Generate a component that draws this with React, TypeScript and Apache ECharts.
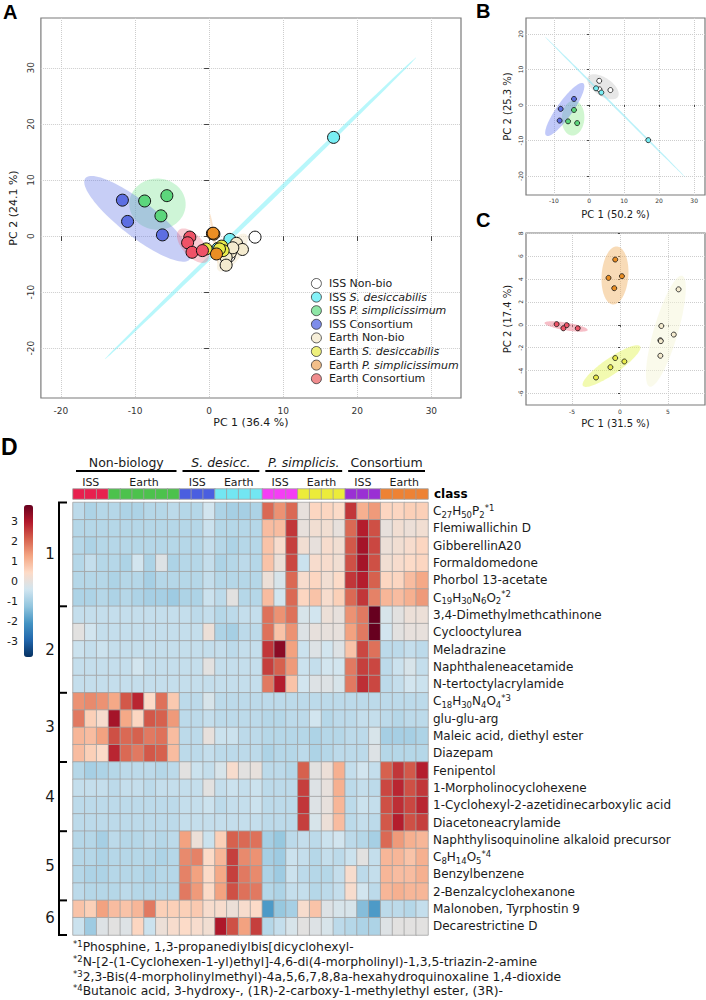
import { useEffect, useRef } from "react";
import * as echarts from "echarts";

const FONT = "DejaVu Sans";
const LETTER_FONT = "Liberation Sans";
const INK = "#1a1a1a";

// ---------------- PCA score plots ----------------
const GROUPS = [
  "ISS Non-bio",
  "ISS S. desiccabilis",
  "ISS P. simplicissimum",
  "ISS Consortium",
  "Earth Non-bio",
  "Earth S. desiccabilis",
  "Earth P. simplicissimum",
  "Earth Consortium",
];
const GROUP_FILL = ["#FFFFFF", "#78EEF4", "#5CD67C", "#5D6EE2", "#F4EBCF", "#E8EA4A", "#EA8E24", "#EF5367"];
const LEGEND_FILL = ["#FFFFFF", "#84F2F8", "#8EE6A6", "#7E8DEA", "#F7EFD9", "#EEF07C", "#F2BF8A", "#F08C8E"];

const AXIS_TITLES_A = ["PC 1 (36.4 %)", "PC 2 (24.1 %)"];
const AXIS_TITLES_B = ["PC 1 (50.2 %)", "PC 2 (25.3 %)"];
const AXIS_TITLES_C = ["PC 1 (31.5 %)", "PC 2 (17.4 %)"];

// all samples, one list per group in GROUPS order: [PC1, PC2]
const SCORES_ALL: [number, number][][] = [
  [[6.2, -0.2], [2.6, -1.6], [2.7, -3.6]],
  [[16.8, 17.6], [2.8, -0.6], [1.2, -2.2]],
  [[-8.7, 6.25], [-5.7, 7.2], [-6.5, 3.6]],
  [[-11.7, 6.4], [-11.0, 2.6], [-6.3, 0.2]],
  [[3.7, -1.3], [4.5, -2.4], [2.9, -2.9], [2.3, -3.8], [2.3, -5.2], [3.2, -2.1]],
  [[-0.4, -2.3], [1.7, -1.8], [1.9, -2.6], [1.4, -2.3]],
  [[0.45, 0.45], [0.65, 0.35], [0.55, 0.5], [1.0, -3.2]],
  [[-2.6, -0.2], [-2.9, -1.2], [-2.3, -2.9], [-0.9, -2.6]],
];
// ISS samples only (groups 0-3)
const SCORES_ISS: [number, number][][] = [
  [[2.9, 6.8], [2.95, 4.4], [6.1, 4.2]],
  [[2.0, 4.7], [3.5, 3.5], [16.9, -9.9]],
  [[-4.3, -1.4], [-6.0, -4.6], [-3.4, -5.1]],
  [[-4.3, 1.7], [-8.1, -1.1], [-8.4, -4.4]],
];
// Earth samples only (groups 4-7)
const SCORES_EARTH: [number, number][][] = [
  [[6.1, 3.1], [4.3, -0.1], [5.6, -0.85], [4.2, -1.35], [4.25, -1.42], [4.2, -2.7]],
  [[-0.5, -2.9], [0.45, -3.2], [-1.0, -3.7], [-2.5, -4.6]],
  [[-0.5, 5.7], [-1.2, 4.1], [0.2, 4.25], [-0.6, 3.2]],
  [[-6.6, 0.06], [-5.55, -0.03], [-5.9, -0.3], [-4.4, -0.3]],
];

const TICKS_A = [-20, -10, 0, 10, 20, 30];
const TICKS_B_X = [-10, 0, 10, 20, 30];
const TICKS_B_Y = [-20, -10, 0, 10, 20];
const TICKS_C_X = [-5, 0, 5];
const TICKS_C_Y = [-6, -4, -2, 0, 2, 4, 6, 8];

const ELLIPSE_A = [
  "rgba(255,255,255,0.35)",
  "rgba(125,240,248,0.55)",
  "rgba(115,226,140,0.35)",
  "rgba(95,115,230,0.35)",
  "rgba(238,222,180,0.35)",
  "rgba(236,238,110,0.30)",
  "rgba(242,180,120,0.35)",
  "rgba(235,110,130,0.35)",
];
const ELLIPSE_B = ["rgba(185,185,185,0.35)", "rgba(140,232,245,0.6)", "rgba(120,228,120,0.35)", "rgba(100,120,240,0.40)"];
const ELLIPSE_C = ["rgba(246,246,215,0.5)", "rgba(226,244,80,0.45)", "rgba(240,176,96,0.45)", "rgba(236,110,130,0.45)"];

// 95 % quantile of chi-square with 2 degrees of freedom
const CHI2_95_2DF = 5.991;

// ---------------- heatmap ----------------
const CLASS_SITES = ["ISS", "Earth", "ISS", "Earth", "ISS", "Earth", "ISS", "Earth"];
const CLASS_SIZES = [3, 6, 3, 4, 3, 4, 3, 4];
const CLASS_COLORS = ["#E8204E", "#4CC24C", "#4A5EE0", "#72E6F2", "#F53DF5", "#ECEC3A", "#9A2FD4", "#EE8234"];
const HEADER_TITLES = ["Non-biology", "S. desicc.", "P. simplicis.", "Consortium"];
const HEADER_ITALIC = [false, true, true, false];

const ROW_LABELS = [
  "C_27H_50P_2^*1",
  "Flemiwallichin D",
  "GibberellinA20",
  "Formaldomedone",
  "Phorbol 13-acetate",
  "C_19H_30N_6O_2^*2",
  "3,4-Dimethylmethcathinone",
  "Cyclooctylurea",
  "Meladrazine",
  "Naphthaleneacetamide",
  "N-tertoctylacrylamide",
  "C_18H_30N_4O_4^*3",
  "glu-glu-arg",
  "Maleic acid, diethyl ester",
  "Diazepam",
  "Fenipentol",
  "1-Morpholinocyclohexene",
  "1-Cyclohexyl-2-azetidinecarboxylic acid",
  "Diacetoneacrylamide",
  "Naphthylisoquinoline alkaloid precursor",
  "C_8H_14O_5^*4",
  "Benzylbenzene",
  "2-Benzalcyclohexanone",
  "Malonoben, Tyrphostin 9",
  "Decarestrictine D",
];
const CLUSTER_SIZES = [6, 5, 4, 4, 4, 2];
const CLUSTER_NAMES = ["1", "2", "3", "4", "5", "6"];

// z-scores, one row per compound, 30 samples in class order
const HEAT_VALUES: number[][] = [
  [-0.7, -0.9, -0.8, -0.8, -0.9, -0.9, -0.8, -0.8, -0.7, -0.8, -0.8, -0.4, -0.9, -1.0, -1.0, -0.9, 2.0, 1.5, 2.0, 0.0, 0.5, 0.5, 0.4, 2.6, 1.1, 1.4, 0.5, 0.5, 0.6, 0.6],
  [-0.8, -0.8, -0.8, -0.8, -0.8, -0.8, -0.8, -0.8, -0.8, -0.8, -0.8, -0.5, -0.8, -0.8, -0.8, -0.8, 0.9, 0.9, 2.6, 0.0, 0.2, 0.2, 0.0, 2.0, 2.9, 2.3, 0.0, 0.2, 0.1, 0.2],
  [-0.8, -0.9, -0.8, -0.8, -0.8, -0.8, -0.8, -0.8, -0.8, -0.8, -0.8, -0.6, -0.8, -0.9, -0.8, -0.8, 0.8, 0.3, 2.5, 0.2, 0.0, 0.3, 0.2, 2.2, 3.1, 2.4, 0.1, 0.2, 0.3, 0.5],
  [-0.8, -0.6, -0.8, -0.8, -0.9, -0.4, -0.9, -0.2, -0.9, -0.8, -0.8, -0.6, -0.9, -0.8, -0.7, -0.8, 0.8, 0.1, 2.4, -0.5, 0.3, 0.3, 0.2, 2.3, 3.1, 2.3, 0.2, 0.3, 0.4, 0.5],
  [-0.8, -0.8, -0.8, -0.9, -0.8, -0.8, -1.0, -0.8, -0.8, -0.8, -0.8, -0.6, -0.8, -0.8, -0.8, -0.8, 0.1, -0.3, 2.0, 0.3, 0.5, 0.2, 0.4, 2.6, 2.9, 2.1, 0.5, 0.5, 0.9, 1.2],
  [-0.9, -0.9, -0.8, -0.9, -0.8, -0.9, -1.0, -1.0, -1.1, -0.9, -0.9, -0.5, -0.7, -0.1, -0.8, -0.8, 0.9, -0.4, 2.0, 0.5, 0.8, 0.3, 0.6, 2.0, 2.6, 1.7, 1.0, 0.9, 1.1, 1.4],
  [-0.6, -0.6, -0.6, -0.6, -0.6, -0.6, -0.6, -0.6, -0.6, -0.6, -0.7, -0.6, -0.8, -0.7, -0.6, -0.6, 1.9, 1.5, 1.9, -0.3, -0.4, 0.1, 0.0, 1.5, 1.8, 3.8, -0.3, -0.1, 0.1, 0.1],
  [-0.1, -0.4, -0.6, -0.6, -0.6, -0.6, -0.6, -0.6, -0.6, -0.6, -0.6, 0.1, -0.9, -1.0, -0.7, -0.7, 1.9, 0.8, 1.5, -0.2, 0.0, 0.0, 0.0, 1.3, 1.8, 3.8, -0.4, -0.1, 0.0, 0.0],
  [-0.5, -0.6, -0.5, -0.6, -0.6, -0.6, -0.6, -0.6, -0.6, -0.6, -0.6, -0.6, -0.6, -0.7, -0.6, -0.6, 2.6, 3.4, 1.3, -0.5, -0.2, -0.4, -0.2, 0.8, 2.4, 1.9, -0.7, -0.7, -0.6, -0.7],
  [-0.6, -0.6, -0.6, -0.6, -0.6, -0.4, -0.6, -0.6, -0.6, -0.6, -0.6, -0.1, -0.6, -0.6, -0.6, -0.6, 2.5, 2.1, 1.4, -0.5, -0.6, -0.4, -0.4, 1.8, 2.5, 2.4, -0.7, -0.5, -0.3, -0.6],
  [-0.6, -0.6, -0.6, -0.6, -0.6, -0.6, -0.6, -0.6, -0.6, -0.6, -0.6, -0.6, -0.6, -0.6, -0.6, -0.6, 1.8, 2.9, 0.8, -0.4, -0.2, -0.2, -0.3, 1.8, 2.7, 2.4, -0.7, -0.6, -0.4, -0.5],
  [1.5, 1.6, 1.5, 1.2, 2.2, 2.8, 0.4, 1.9, 0.7, -0.7, -0.7, -0.3, -0.7, -0.7, -0.7, -0.7, -0.7, -0.7, -0.7, -0.7, -0.7, -0.7, -0.7, -0.7, -0.7, -0.7, -0.7, -0.7, -0.7, -0.7],
  [1.8, 0.6, 0.3, 3.1, 1.2, 0.5, 2.2, 2.1, 1.4, -0.7, -0.7, -0.6, -0.7, -0.7, -0.7, -0.7, -0.8, -0.8, -0.7, -0.7, -0.4, -0.8, -0.7, -0.7, -0.6, -0.6, -0.7, -0.8, -0.7, -0.7],
  [1.0, 0.9, 1.3, 2.3, 2.0, 2.1, 1.8, 1.9, 0.9, -0.7, -0.7, 0.0, -0.5, -0.5, -0.7, -0.7, -0.8, -0.8, -0.8, -0.8, -0.9, -0.8, -0.8, -0.7, -0.7, -0.3, -1.0, -1.0, -1.0, -0.9],
  [0.9, 0.6, 0.4, 2.8, 2.0, 1.8, 2.2, 2.1, 0.9, -0.7, -0.7, -0.6, -0.7, -0.7, -0.7, -0.7, -0.9, -0.8, -0.8, -0.7, -0.9, -0.8, -0.7, -0.7, -0.7, -0.2, -0.8, -0.8, -0.8, -0.8],
  [-0.8, -1.0, -0.9, -0.8, -0.7, -0.7, -0.7, -0.8, -0.7, -0.1, -0.5, -0.6, -0.3, 0.3, -0.1, 0.0, -0.7, -0.7, -0.8, 2.1, -0.1, 0.1, 1.1, -0.6, -0.4, -0.6, 2.1, 2.6, 2.2, 2.9],
  [-0.6, -0.6, -0.6, -0.7, -0.6, -0.6, -0.7, -0.6, -0.6, -0.6, -0.6, -0.1, -0.6, -0.5, -0.6, -0.5, -0.7, -0.7, -0.7, 2.5, -0.2, 0.0, 1.1, -0.7, -0.6, -0.7, 2.4, 2.8, 2.3, 2.6],
  [-0.7, -0.7, -0.7, -0.7, -0.7, -0.7, -0.7, -0.7, -0.7, -0.6, -0.6, -0.5, -0.7, -0.6, -0.6, -0.5, -0.7, -0.7, -0.7, 2.6, -0.2, 0.0, 1.0, -0.7, -0.5, -0.6, 2.3, 2.7, 2.4, 2.8],
  [-0.7, -0.7, -0.7, -0.7, -0.7, -0.7, -0.7, -0.7, -0.7, -0.6, -0.6, -0.6, -0.6, -0.6, -0.6, -0.6, -0.7, -0.7, -0.7, 2.5, -0.3, 0.1, 0.9, -0.7, -0.6, -0.7, 2.2, 2.9, 2.3, 2.5],
  [-0.8, -0.8, -1.0, -0.7, -0.8, -0.8, -0.7, -0.8, -0.7, 1.3, 0.1, -0.5, 0.6, 2.1, 2.0, 1.9, -1.0, -1.2, -0.7, -0.6, -0.7, -0.5, -0.4, -0.7, -0.8, -1.0, 2.0, 1.4, 1.1, 1.0],
  [-0.8, -0.8, -0.9, -0.8, -0.8, -0.8, -0.8, -0.9, -0.8, 1.6, 1.7, 0.4, 1.0, 2.5, 1.6, 1.5, -1.0, -1.1, -0.5, -0.6, -0.8, -0.6, -0.7, -0.5, -0.1, -0.6, 1.0, 1.0, 0.8, 1.1],
  [-0.8, -0.9, -0.9, -0.8, -0.8, -0.8, -0.9, -0.8, -0.8, 1.7, 1.3, 0.4, 1.2, 2.5, 1.8, 1.6, -0.9, -1.1, -0.5, -0.7, -0.8, -0.8, -0.6, 0.3, -0.7, -0.6, 1.0, 0.9, 0.9, 1.1],
  [-0.7, -0.8, -0.8, -0.8, -0.7, -0.8, -0.8, -0.8, -0.8, 1.8, 1.4, 0.4, 1.3, 2.3, 1.9, 1.8, -0.8, -0.9, -0.6, -0.6, -0.8, -0.7, -0.6, 0.3, -0.4, -0.7, 1.0, 1.1, 1.0, 1.0],
  [0.8, 0.6, 1.3, 0.9, 0.8, 1.0, 1.8, 0.6, 0.6, 0.6, 0.7, 0.3, 0.3, 0.1, 0.3, 0.4, -2.0, -1.2, -1.0, 0.3, 0.8, -0.2, -0.3, -0.3, -1.4, -2.0, -0.7, -0.7, -0.8, -0.6],
  [-0.5, -1.1, -0.2, -0.1, -0.2, 0.5, -0.5, 0.1, 0.3, 0.4, 0.3, 0.2, 3.0, 2.3, 1.3, 2.5, -0.8, -0.6, -0.3, -0.1, -0.2, -0.3, -0.7, -0.8, -0.9, -0.9, -0.2, -0.1, -0.1, -0.1],
];

const RDBU = ["#053061", "#2166AC", "#4393C3", "#92C5DE", "#D1E5F0", "#FDDBC7", "#F4A582", "#D6604D", "#B2182B", "#67001F"];
const SCALE_RANGE = [-3.8, 3.8];
const SCALE_TICKS = [3, 2, 1, 0, -1, -2, -3];

const FOOTNOTES = [
  ["*1", "Phosphine, 1,3-propanediylbis[dicyclohexyl-"],
  ["*2", "N-[2-(1-Cyclohexen-1-yl)ethyl]-4,6-di(4-morpholinyl)-1,3,5-triazin-2-amine"],
  ["*3", "2,3-Bis(4-morpholinylmethyl)-4a,5,6,7,8,8a-hexahydroquinoxaline 1,4-dioxide"],
  ["*4", "Butanoic acid, 3-hydroxy-, (1R)-2-carboxy-1-methylethyl ester, (3R)-"],
];

// ---------------- helpers ----------------
type Pt = [number, number];

function centroid(points: Pt[]): Pt {
  const n = points.length;
  return [points.reduce((s, p) => s + p[0], 0) / n, points.reduce((s, p) => s + p[1], 0) / n];
}

// 95 % normal-theory confidence ellipse of a group of scores
function confidenceEllipse(points: Pt[], steps = 96): Pt[] {
  const n = points.length;
  const [mx, my] = centroid(points);
  let sxx = 0, syy = 0, sxy = 0;
  for (const [x, y] of points) {
    sxx += (x - mx) * (x - mx);
    syy += (y - my) * (y - my);
    sxy += (x - mx) * (y - my);
  }
  sxx /= n - 1;
  syy /= n - 1;
  sxy /= n - 1;
  const half = (sxx + syy) / 2;
  const disc = Math.sqrt(Math.max(half * half - (sxx * syy - sxy * sxy), 0));
  const l1 = half + disc;
  const l2 = Math.max(half - disc, 0);
  let vx = 1, vy = 0;
  if (Math.abs(sxy) > 1e-12) {
    vx = l1 - syy;
    vy = sxy;
  } else if (syy > sxx) {
    vx = 0;
    vy = 1;
  }
  const len = Math.hypot(vx, vy);
  vx /= len;
  vy /= len;
  const r = Math.sqrt(CHI2_95_2DF);
  const a = r * Math.sqrt(l1);
  const b = r * Math.sqrt(l2);
  const out: Pt[] = [];
  for (let k = 0; k < steps; k++) {
    const t = (2 * Math.PI * k) / steps;
    const u = a * Math.cos(t);
    const w = b * Math.sin(t);
    out.push([mx + u * vx - w * vy, my + u * vy + w * vx]);
  }
  return out;
}

function formulaRich(label: string): string {
  let out = "";
  const re = /_(\d+)|\^(\*\d+)|([^_^]+)/g;
  let m: RegExpExecArray | null;
  while ((m = re.exec(label))) {
    if (m[1]) out += `{s|${m[1]}}`;
    else if (m[2]) out += `{p|${m[2]}}`;
    else out += `{r|${m[3]}}`;
  }
  return out;
}

function legendRich(name: string): string {
  const m = name.match(/^(ISS|Earth) ([SP]\. \w+)$/);
  return m ? `{n|${m[1]} }{i|${m[2]}}` : `{n|${name}}`;
}

// ---------------- layout ----------------
const PANELS = [
  {
    grid: { left: 40, top: 18, width: 421, height: 380 },
    xRange: [-22.7, 34.0], yRange: [-28.9, 38.9],
    xTicks: TICKS_A, yTicks: TICKS_A, titles: AXIS_TITLES_A,
    scores: SCORES_ALL, groups: [0, 1, 2, 3, 4, 5, 6, 7], ellipse: ELLIPSE_A,
    symbolSize: 12, border: 1, tickFont: 9, nameFont: 11, xMargin: 8, yMargin: 5, tickLen: 5, xNameGap: 19, yNameGap: 14,
  },
  {
    grid: { left: 526, top: 18, width: 179, height: 177 },
    xRange: [-18.0, 33.1], yRange: [-25.35, 24.5],
    xTicks: TICKS_B_X, yTicks: TICKS_B_Y, titles: AXIS_TITLES_B,
    scores: SCORES_ISS, groups: [0, 1, 2, 3], ellipse: ELLIPSE_B,
    symbolSize: 5, border: 0.8, tickFont: 6, nameFont: 10, xMargin: 2, yMargin: 3, tickLen: 2, xNameGap: 14, yNameGap: 14,
  },
  {
    grid: { left: 526, top: 233, width: 179, height: 172 },
    xRange: [-9.79, 8.85], yRange: [-7.0, 8.02],
    xTicks: TICKS_C_X, yTicks: TICKS_C_Y, titles: AXIS_TITLES_C,
    scores: SCORES_EARTH, groups: [4, 5, 6, 7], ellipse: ELLIPSE_C,
    symbolSize: 5, border: 0.8, tickFont: 6, nameFont: 10, xMargin: 3, yMargin: 3, tickLen: 2, xNameGap: 13, yNameGap: 14,
  },
];

const HEAT_BOX = { left: 73, top: 502.5, width: 355, height: 432.5 };
const CLASS_BOX = { left: 73, top: 489, width: 355, height: 10 };
const BAR_BOX = { left: 24, top: 505, width: 9, height: 152 };

function buildOption() {
  const grids: any[] = [];
  const xAxes: any[] = [];
  const yAxes: any[] = [];
  const series: any[] = [];

  PANELS.forEach((p, pi) => {
    grids.push({ ...p.grid, show: true, borderColor: "#7a7a7a", borderWidth: 1.2, backgroundColor: "transparent" });
    const common = (ticks: number[], margin: number, rotate: number, name: string, gap: number) => ({
      type: "value",
      gridIndex: pi,
      axisLine: { show: false },
      axisTick: { show: true, length: p.tickLen, customValues: ticks, lineStyle: { color: "#444", width: 1 } },
      axisLabel: { customValues: ticks, fontFamily: FONT, fontSize: p.tickFont, color: "#333", margin, rotate },
      splitLine: { show: true, lineStyle: { color: "#CDCDCD", type: "dotted", width: 1 } },
      name,
      nameLocation: "middle",
      nameGap: gap,
      nameTextStyle: { fontFamily: FONT, fontSize: p.nameFont, color: INK },
    });
    xAxes.push({ ...common(p.xTicks, p.xMargin, 0, p.titles[0], p.xNameGap), min: p.xRange[0], max: p.xRange[1] });
    yAxes.push({ ...common(p.yTicks, p.yMargin, 90, p.titles[1], p.yNameGap), min: p.yRange[0], max: p.yRange[1] });

    p.groups.forEach((g, k) => {
      const pts = p.scores[k] as Pt[];
      const poly = confidenceEllipse(pts);
      series.push({
        type: "custom",
        name: `${GROUPS[g]} ellipse ${pi}`,
        coordinateSystem: "cartesian2d",
        xAxisIndex: pi,
        yAxisIndex: pi,
        data: [centroid(pts)],
        clip: true,
        silent: true,
        z: 1,
        renderItem: (_params: any, api: any) => ({
          type: "polygon",
          shape: { points: poly.map((q) => api.coord(q)) },
          style: { fill: p.ellipse[k], stroke: null },
        }),
      });
    });
    p.groups.forEach((g, k) => {
      series.push({
        type: "scatter",
        name: pi === 0 ? GROUPS[g] : `${GROUPS[g]} · ${pi}`,
        xAxisIndex: pi,
        yAxisIndex: pi,
        data: p.scores[k],
        symbol: "circle",
        symbolSize: p.symbolSize,
        z: 3,
        silent: true,
        itemStyle: { color: GROUP_FILL[g], borderColor: "#111", borderWidth: p.border, opacity: 1 },
      });
    });
  });

  // sample columns in class order
  const columnClass: number[] = [];
  CLASS_SIZES.forEach((n, c) => {
    for (let i = 0; i < n; i++) columnClass.push(c);
  });
  const columnIds = columnClass.map((c, i) => `${CLASS_SITES[c]}-${c}-${i}`);

  // class colour strip (grid 3)
  grids.push({ ...CLASS_BOX, show: false });
  xAxes.push({ type: "category", gridIndex: 3, data: columnIds, show: false });
  yAxes.push({
    type: "category",
    gridIndex: 3,
    data: ["class"],
    position: "right",
    axisLine: { show: false },
    axisTick: { show: false },
    axisLabel: { fontFamily: FONT, fontSize: 12, fontWeight: "bold", color: "#000", margin: 6 },
  });
  const classIndex = series.length;
  series.push({
    type: "heatmap",
    xAxisIndex: 3,
    yAxisIndex: 3,
    silent: true,
    data: columnClass.map((c, i) => [i, 0, c]),
    itemStyle: { borderColor: "#9E9E9E", borderWidth: 0.8 },
    emphasis: { disabled: true },
  });

  // main heatmap (grid 4)
  grids.push({ ...HEAT_BOX, show: false });
  xAxes.push({ type: "category", gridIndex: 4, data: columnIds, show: false });
  yAxes.push({
    type: "category",
    gridIndex: 4,
    data: ROW_LABELS,
    inverse: true,
    position: "right",
    axisLine: { show: false },
    axisTick: { show: false },
    axisLabel: {
      interval: 0,
      margin: 5,
      formatter: (v: string) => formulaRich(v),
      rich: {
        r: { fontFamily: FONT, fontSize: 12, color: INK, lineHeight: 16 },
        s: { fontFamily: FONT, fontSize: 8.5, color: INK, lineHeight: 10, verticalAlign: "bottom" },
        p: { fontFamily: FONT, fontSize: 8.5, color: INK, lineHeight: 10, verticalAlign: "top" },
      },
    },
  });
  const heatData: number[][] = [];
  HEAT_VALUES.forEach((row, r) => row.forEach((v, c) => heatData.push([c, r, v])));
  const heatIndex = series.length;
  series.push({
    type: "heatmap",
    xAxisIndex: 4,
    yAxisIndex: 4,
    silent: true,
    data: heatData,
    itemStyle: { borderColor: "#A2A2A2", borderWidth: 0.8 },
    emphasis: { disabled: true },
  });

  // colour-key tick labels (grid 5)
  grids.push({ ...BAR_BOX, show: false });
  xAxes.push({ type: "value", gridIndex: 5, show: false, min: 0, max: 1 });
  yAxes.push({
    type: "value",
    gridIndex: 5,
    min: SCALE_RANGE[0],
    max: SCALE_RANGE[1],
    axisLine: { show: false },
    axisTick: { show: false },
    splitLine: { show: false },
    axisLabel: { customValues: SCALE_TICKS, fontFamily: FONT, fontSize: 11, color: INK, margin: 6 },
  });

  // ---- annotations ----
  const graphic: any[] = [];
  const text = (t: string, x: number, y: number, size: number, opts: any = {}) => ({
    type: "text",
    x,
    y,
    silent: true,
    style: {
      text: t,
      fontFamily: opts.family || FONT,
      fontSize: size,
      fontWeight: opts.weight || "normal",
      fontStyle: opts.italic ? "italic" : "normal",
      fill: opts.fill || INK,
      align: opts.align || "left",
      verticalAlign: "middle",
      textAlign: opts.align || "left",
      textVerticalAlign: "middle",
      rich: opts.rich,
    },
  });

  graphic.push(text("A", 3, 12, 20, { family: LETTER_FONT, weight: "bold", fill: "#000" }));
  graphic.push(text("B", 476, 11, 20, { family: LETTER_FONT, weight: "bold", fill: "#000" }));
  graphic.push(text("C", 476, 220, 20, { family: LETTER_FONT, weight: "bold", fill: "#000" }));
  graphic.push(text("D", 1, 447, 23, { family: LETTER_FONT, weight: "bold", fill: "#000" }));

  const cellW = HEAT_BOX.width / columnClass.length;
  const cellH = HEAT_BOX.height / ROW_LABELS.length;
  const classStart: number[] = [];
  let acc = 0;
  CLASS_SIZES.forEach((n) => {
    classStart.push(acc);
    acc += n;
  });
  const colX = (i: number) => HEAT_BOX.left + i * cellW;

  // class site labels over the strip
  CLASS_SIZES.forEach((n, c) => {
    const cx = (colX(classStart[c]) + colX(classStart[c] + n)) / 2;
    graphic.push(text(CLASS_SITES[c], cx, 482, 11, { align: "center" }));
  });
  // organism headers with underline
  HEADER_TITLES.forEach((t, h) => {
    const c0 = h * 2;
    const x1 = colX(classStart[c0]) + 3;
    const x2 = colX(classStart[c0 + 1] + CLASS_SIZES[c0 + 1]) - 3;
    graphic.push({
      type: "line",
      silent: true,
      shape: { x1, y1: 471, x2, y2: 471 },
      style: { stroke: "#000", lineWidth: 2 },
    });
    graphic.push(text(t, (x1 + x2) / 2, 462, 12.5, { align: "center", italic: HEADER_ITALIC[h] }));
  });

  // row cluster bracket
  const bracketX = 59;
  let rowAcc = 0;
  const bounds = [0];
  CLUSTER_SIZES.forEach((n) => {
    rowAcc += n;
    bounds.push(rowAcc);
  });
  const rowY = (r: number) => HEAT_BOX.top + r * cellH;
  graphic.push({
    type: "line",
    silent: true,
    shape: { x1: bracketX, y1: rowY(0), x2: bracketX, y2: rowY(rowAcc) },
    style: { stroke: "#000", lineWidth: 2 },
  });
  bounds.forEach((b) => {
    graphic.push({
      type: "line",
      silent: true,
      shape: { x1: bracketX - 1, y1: rowY(b), x2: bracketX + 8, y2: rowY(b) },
      style: { stroke: "#000", lineWidth: 2 },
    });
  });
  CLUSTER_SIZES.forEach((n, k) => {
    graphic.push(text(CLUSTER_NAMES[k], 50, (rowY(bounds[k]) + rowY(bounds[k + 1])) / 2, 15, { align: "center" }));
  });

  // footnotes
  FOOTNOTES.forEach(([mark, body], k) => {
    graphic.push(
      text(`{p|${mark}}{r|${body}}`, 73, 947 + k * 14.8, 12.3, {
        rich: {
          r: { fontFamily: FONT, fontSize: 12.3, fill: INK, color: INK, lineHeight: 15 },
          p: { fontFamily: FONT, fontSize: 8.5, fill: INK, color: INK, lineHeight: 9, verticalAlign: "top" },
        },
      })
    );
  });

  return {
    animation: false,
    backgroundColor: "#ffffff",
    grid: grids,
    xAxis: xAxes,
    yAxis: yAxes,
    series,
    legend: {
      show: true,
      selectedMode: false,
      orient: "vertical",
      left: 311,
      top: 278,
      padding: 0,
      itemWidth: 15,
      itemHeight: 10,
      itemGap: 2.6,
      data: GROUPS.map((name, g) => ({
        name,
        itemStyle: { color: LEGEND_FILL[g], borderColor: "#333", borderWidth: 0.8 },
      })),
      formatter: (name: string) => legendRich(name),
      textStyle: {
        fontFamily: FONT,
        fontSize: 11,
        color: INK,
        rich: {
          n: { fontFamily: FONT, fontSize: 11, color: INK, lineHeight: 12 },
          i: { fontFamily: FONT, fontSize: 11, color: INK, lineHeight: 12, fontStyle: "italic" },
        },
      },
    },
    visualMap: [
      {
        type: "continuous",
        seriesIndex: heatIndex,
        min: SCALE_RANGE[0],
        max: SCALE_RANGE[1],
        inRange: { color: RDBU },
        orient: "vertical",
        left: BAR_BOX.left,
        top: BAR_BOX.top,
        itemWidth: BAR_BOX.width,
        itemHeight: BAR_BOX.height,
        padding: 0,
        calculable: false,
        hoverLink: false,
        text: null,
      },
      {
        type: "piecewise",
        show: false,
        seriesIndex: classIndex,
        dimension: 2,
        pieces: CLASS_COLORS.map((color, c) => ({ value: c, color })),
      },
    ],
    graphic,
  };
}

export default function App() {
  const ref = useRef<HTMLDivElement>(null);
  useEffect(() => {
    const chart = echarts.init(ref.current!, null, { renderer: "svg" });
    chart.setOption(buildOption() as any);
    return () => chart.dispose();
  }, []);
  return (
    <div
      ref={ref}
      style={{ position: "absolute", left: 0, top: 0, width: 706, height: 1000, background: "#ffffff" }}
    />
  );
}
